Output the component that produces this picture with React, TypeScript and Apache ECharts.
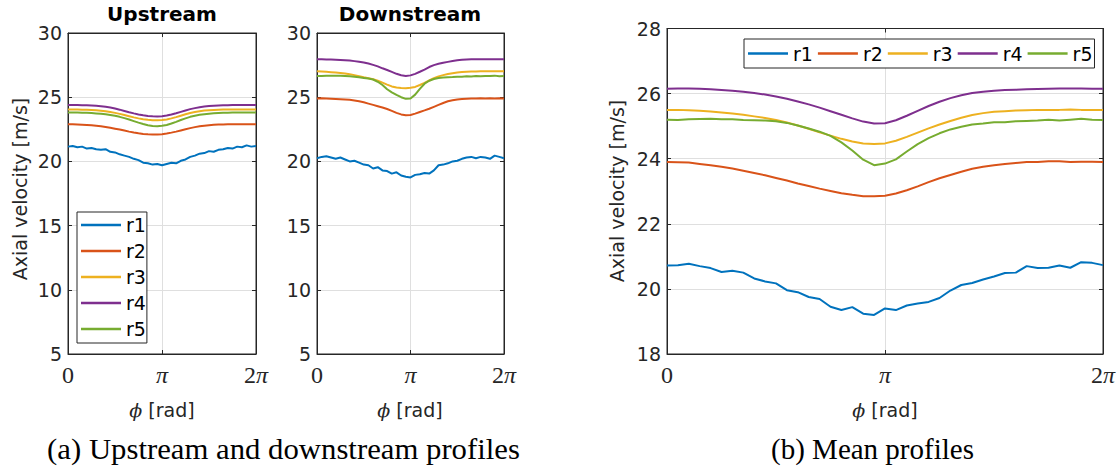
import React, { useEffect, useRef } from "react";
import * as echarts from "echarts";

// angular position in units of pi (0 .. 2)
const phi = [0, 0.05, 0.1, 0.15, 0.2, 0.25, 0.3, 0.35, 0.4, 0.45, 0.5, 0.55, 0.6, 0.65, 0.7, 0.75, 0.8, 0.85, 0.9, 0.95, 1.0,
  1.05, 1.1, 1.15, 1.2, 1.25, 1.3, 1.35, 1.4, 1.45, 1.5, 1.55, 1.6, 1.65, 1.7, 1.75, 1.8, 1.85, 1.9, 1.95, 2.0];

const seriesNames = ["r1", "r2", "r3", "r4", "r5"];
const xTickLabels = ["0", "π", "2π"];

// Upstream
const upR1 = [21.15, 21.2, 21.1, 21.15, 21.0, 21.05, 20.95, 20.9, 20.95, 20.75, 20.7, 20.55, 20.45, 20.35, 20.2, 20.1, 19.9, 19.85, 19.75, 19.8, 19.7,
  19.8, 19.9, 19.85, 20.05, 20.15, 20.35, 20.45, 20.6, 20.65, 20.8, 20.75, 20.9, 20.95, 21.05, 21.0, 21.15, 21.1, 21.25, 21.15, 21.2];
const upR2 = [22.9, 22.9, 22.88, 22.86, 22.84, 22.81, 22.77, 22.73, 22.68, 22.62, 22.55, 22.48, 22.4, 22.32, 22.25, 22.19, 22.14, 22.11, 22.1, 22.1,
  22.12, 22.17, 22.24, 22.32, 22.41, 22.5, 22.59, 22.67, 22.73, 22.78, 22.82, 22.85, 22.87, 22.88, 22.89, 22.9, 22.9, 22.9, 22.9, 22.9, 22.9];
const upR3 = [24.05, 24.05, 24.04, 24.03, 24.02, 24.0, 23.98, 23.95, 23.9, 23.85, 23.78, 23.7, 23.61, 23.52, 23.43, 23.35, 23.29, 23.24, 23.21, 23.2,
  23.22, 23.27, 23.35, 23.45, 23.56, 23.67, 23.77, 23.85, 23.91, 23.96, 23.99, 24.01, 24.03, 24.04, 24.05, 24.05, 24.05, 24.05, 24.05, 24.05, 24.05];
const upR4 = [24.4, 24.4, 24.4, 24.38, 24.37, 24.35, 24.33, 24.3, 24.25, 24.2, 24.12, 24.03, 23.93, 23.83, 23.74, 23.66, 23.59, 23.54, 23.51, 23.5,
  23.52, 23.57, 23.65, 23.75, 23.86, 23.97, 24.07, 24.15, 24.22, 24.27, 24.31, 24.34, 24.36, 24.37, 24.38, 24.39, 24.4, 24.4, 24.4, 24.4, 24.4];
const upR5 = [23.8, 23.8, 23.8, 23.79, 23.78, 23.76, 23.74, 23.71, 23.67, 23.62, 23.55, 23.47, 23.37, 23.26, 23.14, 23.02, 22.91, 22.82, 22.76, 22.74,
  22.77, 22.84, 22.95, 23.08, 23.22, 23.35, 23.47, 23.56, 23.63, 23.68, 23.72, 23.75, 23.77, 23.78, 23.79, 23.8, 23.8, 23.8, 23.8, 23.8, 23.8];

// Downstream
const downR1 = [20.25, 20.35, 20.4, 20.3, 20.2, 20.3, 20.15, 20.0, 20.05, 19.9, 19.75, 19.7, 19.45, 19.55, 19.3, 19.25, 19.05, 19.15, 18.9, 18.8,
  18.75, 18.95, 19.0, 19.1, 19.05, 19.3, 19.7, 19.75, 19.85, 20.0, 20.05, 20.2, 20.3, 20.35, 20.25, 20.35, 20.3, 20.2, 20.45, 20.35, 20.25];
const downR2 = [24.9, 24.92, 24.9, 24.88, 24.86, 24.84, 24.82, 24.8, 24.75, 24.69, 24.6, 24.5, 24.4, 24.3, 24.2, 24.08, 23.93, 23.78, 23.66, 23.6,
  23.62, 23.72, 23.85, 23.97, 24.1, 24.25, 24.4, 24.55, 24.68, 24.76, 24.82, 24.86, 24.88, 24.9, 24.9, 24.91, 24.9, 24.92, 24.9, 24.92, 24.9];
const downR3 = [27.02, 27.0, 26.98, 26.95, 26.92, 26.88, 26.84, 26.78, 26.72, 26.64, 26.55, 26.48, 26.4, 26.28, 26.13, 25.98, 25.84, 25.75, 25.71, 25.7,
  25.73, 25.8, 25.95, 26.12, 26.3, 26.48, 26.62, 26.72, 26.8, 26.87, 26.92, 26.96, 26.99, 27.0, 27.01, 27.02, 27.02, 27.02, 27.02, 27.02, 27.02];
const downR4 = [27.95, 27.95, 27.94, 27.93, 27.92, 27.9, 27.88, 27.85, 27.81, 27.76, 27.7, 27.62, 27.52, 27.4, 27.25, 27.12, 26.97, 26.82, 26.71, 26.66,
  26.7, 26.82, 26.98, 27.15, 27.35, 27.5, 27.6, 27.68, 27.75, 27.82, 27.87, 27.91, 27.94, 27.95, 27.96, 27.96, 27.96, 27.96, 27.96, 27.96, 27.96];
const downR5 = [26.65, 26.65, 26.67, 26.68, 26.68, 26.67, 26.66, 26.63, 26.6, 26.55, 26.5, 26.45, 26.38, 26.2, 25.95, 25.62, 25.38, 25.18, 25.0, 24.87,
  24.9, 25.2, 25.65, 26.05, 26.28, 26.42, 26.5, 26.53, 26.55, 26.57, 26.6, 26.6, 26.63, 26.62, 26.65, 26.64, 26.66, 26.65, 26.68, 26.63, 26.65];

// Mean
const meanR1 = [20.72, 20.73, 20.77, 20.7, 20.64, 20.52, 20.56, 20.5, 20.32, 20.23, 20.17, 19.96, 19.9, 19.75, 19.69, 19.45, 19.35, 19.44, 19.24, 19.2,
  19.4, 19.35, 19.49, 19.55, 19.6, 19.72, 19.95, 20.12, 20.18, 20.29, 20.38, 20.49, 20.5, 20.7, 20.64, 20.65, 20.72, 20.65, 20.82, 20.8, 20.73];
const meanR2 = [23.9, 23.89, 23.88, 23.84, 23.8, 23.75, 23.7, 23.63, 23.56, 23.49, 23.41, 23.33, 23.24, 23.16, 23.08, 23.01, 22.94, 22.89, 22.85, 22.85,
  22.86, 22.93, 23.03, 23.15, 23.28, 23.4, 23.5, 23.6, 23.69, 23.75, 23.8, 23.84, 23.87, 23.9, 23.9, 23.92, 23.92, 23.9, 23.91, 23.91, 23.9];
const meanR3 = [25.5, 25.5, 25.49, 25.47, 25.45, 25.42, 25.39, 25.35, 25.3, 25.25, 25.19, 25.11, 25.02, 24.92, 24.81, 24.71, 24.61, 24.53, 24.47, 24.45,
  24.47, 24.55, 24.67, 24.8, 24.93, 25.05, 25.16, 25.26, 25.34, 25.4, 25.44, 25.46, 25.48, 25.49, 25.5, 25.5, 25.5, 25.51, 25.5, 25.5, 25.5];
const meanR4 = [26.15, 26.16, 26.16, 26.15, 26.13, 26.11, 26.09, 26.06, 26.02, 25.97, 25.91, 25.84, 25.76, 25.67, 25.57, 25.46, 25.35, 25.24, 25.14, 25.08,
  25.09, 25.18, 25.32, 25.47, 25.62, 25.75, 25.86, 25.95, 26.02, 26.06, 26.09, 26.11, 26.12, 26.13, 26.14, 26.15, 26.16, 26.16, 26.16, 26.15, 26.15];
const meanR5 = [25.2, 25.19, 25.21, 25.22, 25.23, 25.21, 25.21, 25.19, 25.18, 25.17, 25.15, 25.1, 25.02, 24.93, 24.83, 24.7, 24.5, 24.25, 23.97, 23.8,
  23.85, 23.98, 24.22, 24.45, 24.63, 24.78, 24.9, 24.98, 25.05, 25.08, 25.12, 25.12, 25.15, 25.16, 25.17, 25.2, 25.17, 25.2, 25.23, 25.2, 25.19];

const upstream = [upR1, upR2, upR3, upR4, upR5];
const downstream = [downR1, downR2, downR3, downR4, downR5];
const mean = [meanR1, meanR2, meanR3, meanR4, meanR5];

const COLORS = ["#0072BD", "#D95319", "#EDB120", "#7E2F8E", "#77AC30"];
const AX = "#262626";
const GRIDC = "#dfdfdf";
const SANS = "DejaVu Sans";
const SERIF = "Liberation Serif";

export default function App() {
  const ref = useRef<HTMLDivElement>(null);

  useEffect(() => {
    if (!ref.current) return;
    const chart = echarts.init(ref.current, null, { renderer: "svg" });

    const grids = [
      { left: 68, top: 33, width: 188, height: 321 },
      { left: 317, top: 33, width: 187, height: 321 },
      { left: 667, top: 28.5, width: 436, height: 325.5 },
    ];
    const yRanges = [
      { min: 5, max: 30, interval: 5 },
      { min: 5, max: 30, interval: 5 },
      { min: 18, max: 28, interval: 2 },
    ];

    const xMain = (g: number) => ({
      type: "value", gridIndex: g, min: 0, max: 2, interval: 1, position: "bottom",
      axisLine: { show: true, onZero: false, lineStyle: { color: AX, width: 1 } },
      axisTick: { show: true, inside: true, length: 4, lineStyle: { color: AX } },
      splitLine: { show: true, lineStyle: { color: GRIDC, width: 1 } },
      axisLabel: {
        margin: 9,
        formatter: (v: number) => {
          const s = xTickLabels[Math.round(v)] || "";
          return s.split("").map((c) => (c === "π" ? `{p|${c}}` : `{n|${c}}`)).join("");
        },
        rich: {
          n: { fontFamily: SERIF, fontSize: 24, color: AX },
          p: { fontFamily: SERIF, fontSize: 24, fontStyle: "italic", color: AX },
        },
      },
    });
    const xTop = (g: number) => ({
      type: "value", gridIndex: g, min: 0, max: 2, interval: 1, position: "top",
      axisLine: { show: true, onZero: false, lineStyle: { color: AX, width: 1 } },
      axisTick: { show: true, inside: true, length: 4, lineStyle: { color: AX } },
      splitLine: { show: false }, axisLabel: { show: false },
    });
    const yMain = (g: number) => ({
      type: "value", gridIndex: g, ...yRanges[g], position: "left",
      axisLine: { show: true, onZero: false, lineStyle: { color: AX, width: 1 } },
      axisTick: { show: true, inside: true, length: 4, lineStyle: { color: AX } },
      splitLine: { show: true, lineStyle: { color: GRIDC, width: 1 } },
      axisLabel: { margin: 6, color: AX, fontFamily: SANS, fontSize: 19 },
    });
    const yRight = (g: number) => ({
      type: "value", gridIndex: g, ...yRanges[g], position: "right",
      axisLine: { show: true, onZero: false, lineStyle: { color: AX, width: 1 } },
      axisTick: { show: true, inside: true, length: 4, lineStyle: { color: AX } },
      splitLine: { show: false }, axisLabel: { show: false },
    });

    const panels = [upstream, downstream, mean];
    const series: any[] = [];
    panels.forEach((set, p) => {
      set.forEach((vals, k) => {
        series.push({
          type: "line",
          name: seriesNames[k],
          xAxisIndex: p,
          yAxisIndex: p,
          data: phi.map((x, i) => [x, vals[i]]),
          symbol: "none",
          lineStyle: { color: COLORS[k], width: 2 },
          itemStyle: { color: COLORS[k] },
          emphasis: { disabled: true },
        });
      });
    });

    const legendText = { fontFamily: SANS, fontSize: 19, color: "#000" };

    const xLabel = (x: number) => ({
      type: "text", x, y: 410,
      style: {
        text: "{p|ϕ} [rad]",
        rich: { p: { fontFamily: "DejaVu Serif", fontStyle: "italic", fontSize: 19, fill: AX } },
        fontFamily: SANS, fontSize: 19, fill: AX, align: "center", verticalAlign: "middle",
      },
    });

    const option: any = {
      animation: false,
      backgroundColor: "#ffffff",
      grid: grids.map((g) => ({ ...g, show: true, borderColor: AX, borderWidth: 1, backgroundColor: "transparent" })),
      xAxis: [xMain(0), xMain(1), xMain(2), xTop(0), xTop(1), xTop(2)],
      yAxis: [yMain(0), yMain(1), yMain(2), yRight(0), yRight(1), yRight(2)],
      legend: [
        {
          data: seriesNames, orient: "vertical", left: 77, top: 212,
          padding: [3, 1, 4, 4], itemGap: 6, itemWidth: 40, itemHeight: 2.5, icon: "rect",
          backgroundColor: "#fff", borderColor: AX, borderWidth: 1,
          textStyle: { ...legendText, lineHeight: 20 }, selectedMode: false,
        },
        {
          data: seriesNames, orient: "horizontal", left: 744, top: 39,
          padding: [3, 2, 3, 4], itemGap: 5, itemWidth: 40, itemHeight: 2.5, icon: "rect",
          backgroundColor: "#fff", borderColor: AX, borderWidth: 1,
          textStyle: { ...legendText, lineHeight: 23 }, selectedMode: false,
        },
      ],
      series,
      graphic: [
        { type: "text", x: 162, y: 14, style: { text: "Upstream", fontFamily: SANS, fontWeight: "bold", fontSize: 20, fill: "#000", align: "center", verticalAlign: "middle" } },
        { type: "text", x: 410, y: 14, style: { text: "Downstream", fontFamily: SANS, fontWeight: "bold", fontSize: 20, fill: "#000", align: "center", verticalAlign: "middle" } },
        { type: "text", x: 20, y: 189, rotation: Math.PI / 2, style: { text: "Axial velocity [m/s]", fontFamily: SANS, fontSize: 19, fill: AX, align: "center", verticalAlign: "middle" } },
        { type: "text", x: 617, y: 191, rotation: Math.PI / 2, style: { text: "Axial velocity [m/s]", fontFamily: SANS, fontSize: 19, fill: AX, align: "center", verticalAlign: "middle" } },
        xLabel(162), xLabel(410), xLabel(885),
        { type: "text", x: 283.5, y: 449, scaleX: 1.06, style: { text: "(a) Upstream and downstream profiles", fontFamily: SERIF, fontSize: 29, fill: "#000", align: "center", verticalAlign: "middle" } },
        { type: "text", x: 872.5, y: 449, style: { text: "(b) Mean profiles", fontFamily: SERIF, fontSize: 29, fill: "#000", align: "center", verticalAlign: "middle" } },
      ],
    };

    chart.setOption(option);
    return () => chart.dispose();
  }, []);

  return (
    <div
      ref={ref}
      style={{ position: "fixed", left: 0, top: 0, width: 1119, height: 470, background: "#fff" }}
    />
  );
}
